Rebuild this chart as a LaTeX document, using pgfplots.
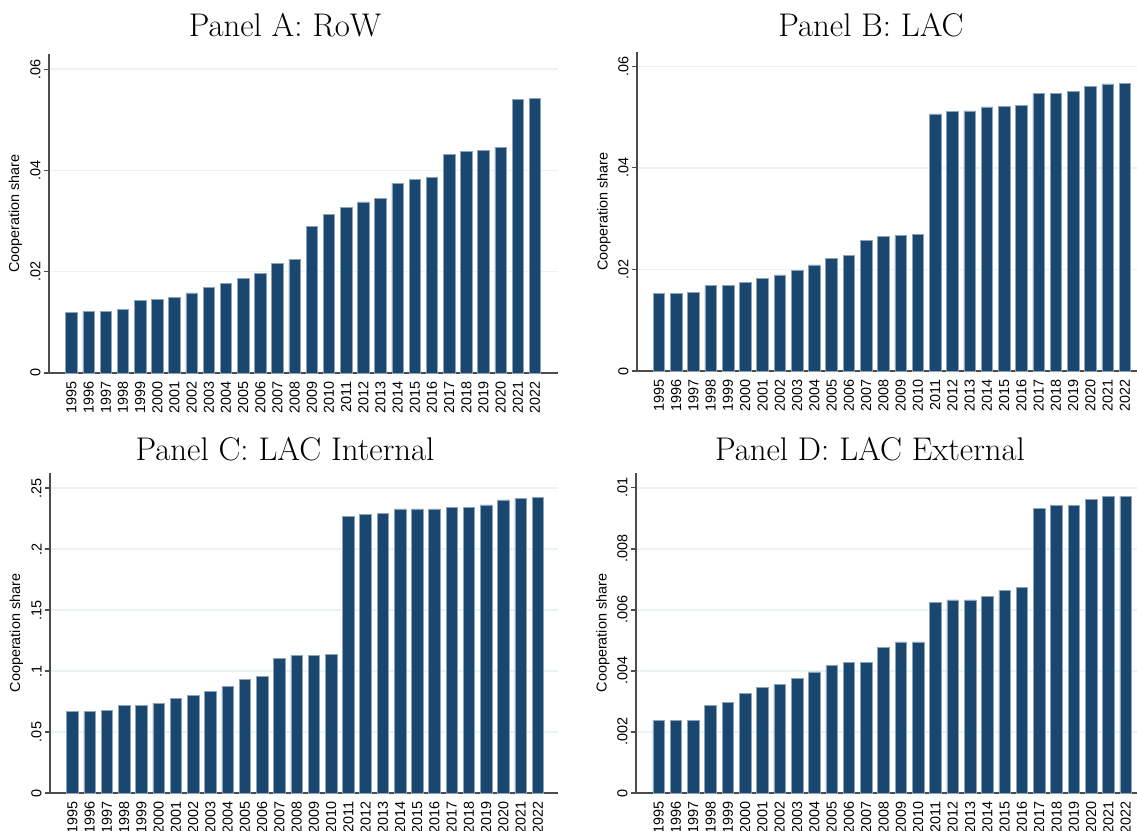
\documentclass[border=0pt]{standalone}
\usepackage{pgfplots}
\pgfplotsset{compat=1.18}
\usepackage{pgfplotstable}
\usepackage{fontspec}
\newfontfamily\arial{Liberation Sans}
\definecolor{barc}{HTML}{1A476F}
\definecolor{barl}{HTML}{8CA3B8}
\definecolor{gridc}{HTML}{EAF2F3}

\pgfplotstableread{
i A B C D
0 0.0119 0.0153 0.0667 0.00237
1 0.0121 0.0153 0.0667 0.00237
2 0.0122 0.0155 0.0675 0.00237
3 0.0125 0.0168 0.0721 0.00288
4 0.0144 0.0169 0.0721 0.00298
5 0.0146 0.0175 0.0735 0.00326
6 0.0150 0.0183 0.0776 0.00347
7 0.0158 0.0189 0.0798 0.00357
8 0.0169 0.0198 0.0831 0.00375
9 0.0177 0.0209 0.0877 0.00397
10 0.0187 0.0221 0.0932 0.00417
11 0.0196 0.0227 0.0956 0.00427
12 0.0217 0.0257 0.1104 0.00427
13 0.0225 0.0265 0.1128 0.00476
14 0.0290 0.0267 0.1128 0.00495
15 0.0314 0.0269 0.1137 0.00495
16 0.0327 0.0506 0.2265 0.00624
17 0.0338 0.0511 0.2281 0.00633
18 0.0345 0.0512 0.2290 0.00633
19 0.0375 0.0520 0.2328 0.00644
20 0.0383 0.0521 0.2328 0.00664
21 0.0387 0.0523 0.2328 0.00674
22 0.0432 0.0546 0.2339 0.00932
23 0.0437 0.0547 0.2339 0.00942
24 0.0439 0.0550 0.2361 0.00942
25 0.0446 0.0560 0.2402 0.00962
26 0.0540 0.0565 0.2415 0.00972
27 0.0542 0.0566 0.2423 0.00972
}\data

\pgfplotsset{stata/.style={
  scale only axis, anchor=south west,
  axis x line*=bottom, axis y line*=left,
  axis line style={black!70, line width=0.55pt},
  ymin=0, scaled y ticks=false,
  xtick={0,...,27},
  xticklabels={1995,1996,1997,1998,1999,2000,2001,2002,2003,2004,2005,2006,2007,2008,2009,2010,2011,2012,2013,2014,2015,2016,2017,2018,2019,2020,2021,2022},
  x tick label style={rotate=90, anchor=east, font=\arial\fontsize{7.2}{8}\selectfont, inner sep=1.5pt},
  y tick label style={rotate=90, anchor=south, font=\arial\fontsize{7.2}{8}\selectfont, inner sep=1.5pt},
  major x tick style={draw=none},
  major tick length=2.5pt,
  tick align=outside,
  ytick style={black!70, line width=0.55pt},
  ymajorgrids, major grid style={gridc, line width=0.7pt},
  ylabel={Cooperation share},
  ylabel style={at={(axis description cs:-0.066,0.5)}, anchor=center, font=\arial\fontsize{7.2}{8}\selectfont},
  every axis title shift=0pt,
  title style={font=\fontsize{16.4}{19}\selectfont, anchor=center},
  clip=false,
}}

\begin{document}
\begin{tikzpicture}
\useasboundingbox (0,0) rectangle (568.5pt,415.5pt);

\begin{axis}[stata, at={(24.5pt,229pt)}, width=254.5pt, height=159.5pt,
  xmin=-1.31, xmax=28.34, ymax=0.063,
  ytick={0,0.02,0.04,0.06}, yticklabels={0,.02,.04,.06},
  title={Panel A: RoW}, title style={at={(axis description cs:0.4637,1.091)}}]
\addplot[ybar, bar width=0.67, fill=barc, draw=barl, line width=0.3pt] table[x=i,y=A] {\data};
\end{axis}

\begin{axis}[stata, at={(318.5pt,230pt)}, width=250pt, height=159.5pt,
  xmin=-1.275, xmax=27.7, ymax=0.0628,
  ytick={0,0.02,0.04,0.06}, yticklabels={0,.02,.04,.06},
  title={Panel B: LAC}, title style={at={(axis description cs:0.468,1.0846)}}]
\addplot[ybar, bar width=0.67, fill=barc, draw=barl, line width=0.3pt] table[x=i,y=B] {\data};
\end{axis}

\begin{axis}[stata, at={(25pt,19pt)}, width=254pt, height=160pt,
  xmin=-1.3, xmax=28.16, ymax=0.2623,
  ytick={0,0.05,0.1,0.15,0.2,0.25}, yticklabels={0,.05,.1,.15,.2,.25},
  title={Panel C: LAC Internal}, title style={at={(axis description cs:0.4626,1.075)}}]
\addplot[ybar, bar width=0.67, fill=barc, draw=barl, line width=0.3pt] table[x=i,y=C] {\data};
\end{axis}

\begin{axis}[stata, at={(318pt,19pt)}, width=250.5pt, height=160pt,
  xmin=-1.31, xmax=27.65, ymax=0.01049,
  ytick={0,0.002,0.004,0.006,0.008,0.01}, yticklabels={0,.002,.004,.006,.008,.01},
  title={Panel D: LAC External}, title style={at={(axis description cs:0.467,1.075)}}]
\addplot[ybar, bar width=0.67, fill=barc, draw=barl, line width=0.3pt] table[x=i,y=D] {\data};
\end{axis}
\end{tikzpicture}
\end{document}
